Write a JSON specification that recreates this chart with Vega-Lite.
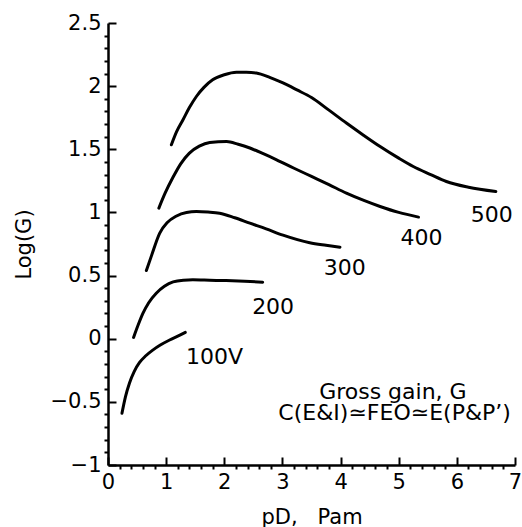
{
  "$schema": "https://vega.github.io/schema/vega-lite/v6.json",
  "width": 407,
  "height": 442,
  "autosize": {"type": "none"},
  "padding": {"left": 108, "top": 23, "right": 7, "bottom": 62},
  "background": "white",
  "config": {
    "font": "DejaVu Sans",
    "view": {"stroke": null},
    "axis": {
      "grid": false,
      "domainColor": "black",
      "domainWidth": 2.5,
      "tickColor": "black",
      "tickWidth": 2,
      "labelColor": "black",
      "titleColor": "black",
      "labelFontSize": 21,
      "titleFontSize": 21,
      "titleFontWeight": "normal",
      "labelOverlap": false,
      "labelFlush": false,
      "labelBound": false,
      "tickCount": 1000
    }
  },
  "datasets": {
    "curves": [
      {"series": "100", "x": 0.24, "y": -0.59},
      {"series": "100", "x": 0.30, "y": -0.46},
      {"series": "100", "x": 0.37, "y": -0.35},
      {"series": "100", "x": 0.45, "y": -0.26},
      {"series": "100", "x": 0.54, "y": -0.19},
      {"series": "100", "x": 0.65, "y": -0.135},
      {"series": "100", "x": 0.77, "y": -0.09},
      {"series": "100", "x": 0.90, "y": -0.05},
      {"series": "100", "x": 1.06, "y": -0.01},
      {"series": "100", "x": 1.20, "y": 0.02},
      {"series": "100", "x": 1.33, "y": 0.05},
      {"series": "200", "x": 0.44, "y": 0.01},
      {"series": "200", "x": 0.52, "y": 0.11},
      {"series": "200", "x": 0.60, "y": 0.20},
      {"series": "200", "x": 0.70, "y": 0.285},
      {"series": "200", "x": 0.83, "y": 0.36},
      {"series": "200", "x": 0.97, "y": 0.415},
      {"series": "200", "x": 1.12, "y": 0.45},
      {"series": "200", "x": 1.30, "y": 0.463},
      {"series": "200", "x": 1.46, "y": 0.466},
      {"series": "200", "x": 1.75, "y": 0.463},
      {"series": "200", "x": 2.03, "y": 0.46},
      {"series": "200", "x": 2.35, "y": 0.455},
      {"series": "200", "x": 2.66, "y": 0.448},
      {"series": "300", "x": 0.66, "y": 0.54},
      {"series": "300", "x": 0.75, "y": 0.66},
      {"series": "300", "x": 0.89, "y": 0.836},
      {"series": "300", "x": 1.02, "y": 0.92},
      {"series": "300", "x": 1.17, "y": 0.97},
      {"series": "300", "x": 1.35, "y": 1.0},
      {"series": "300", "x": 1.52, "y": 1.007},
      {"series": "300", "x": 1.72, "y": 1.003},
      {"series": "300", "x": 1.92, "y": 0.994},
      {"series": "300", "x": 2.18, "y": 0.958},
      {"series": "300", "x": 2.44, "y": 0.915},
      {"series": "300", "x": 2.72, "y": 0.87},
      {"series": "300", "x": 3.01, "y": 0.82},
      {"series": "300", "x": 3.47, "y": 0.76},
      {"series": "300", "x": 3.75, "y": 0.74},
      {"series": "300", "x": 3.99, "y": 0.725},
      {"series": "400", "x": 0.875, "y": 1.034},
      {"series": "400", "x": 0.98, "y": 1.15},
      {"series": "400", "x": 1.12, "y": 1.28},
      {"series": "400", "x": 1.25, "y": 1.385},
      {"series": "400", "x": 1.40, "y": 1.47},
      {"series": "400", "x": 1.57, "y": 1.525},
      {"series": "400", "x": 1.75, "y": 1.554},
      {"series": "400", "x": 2.04, "y": 1.562},
      {"series": "400", "x": 2.24, "y": 1.54},
      {"series": "400", "x": 2.44, "y": 1.51},
      {"series": "400", "x": 2.67, "y": 1.465},
      {"series": "400", "x": 2.90, "y": 1.417},
      {"series": "400", "x": 3.20, "y": 1.35},
      {"series": "400", "x": 3.50, "y": 1.285},
      {"series": "400", "x": 3.80, "y": 1.22},
      {"series": "400", "x": 4.10, "y": 1.153},
      {"series": "400", "x": 4.40, "y": 1.095},
      {"series": "400", "x": 4.68, "y": 1.047},
      {"series": "400", "x": 5.00, "y": 1.0},
      {"series": "400", "x": 5.34, "y": 0.963},
      {"series": "500", "x": 1.09, "y": 1.536},
      {"series": "500", "x": 1.18, "y": 1.64},
      {"series": "500", "x": 1.29, "y": 1.734},
      {"series": "500", "x": 1.40, "y": 1.83},
      {"series": "500", "x": 1.52, "y": 1.918},
      {"series": "500", "x": 1.65, "y": 1.99},
      {"series": "500", "x": 1.80, "y": 2.05},
      {"series": "500", "x": 2.00, "y": 2.09},
      {"series": "500", "x": 2.21, "y": 2.11},
      {"series": "500", "x": 2.38, "y": 2.11},
      {"series": "500", "x": 2.55, "y": 2.104},
      {"series": "500", "x": 2.78, "y": 2.07},
      {"series": "500", "x": 3.01, "y": 2.025},
      {"series": "500", "x": 3.25, "y": 1.97},
      {"series": "500", "x": 3.50, "y": 1.91},
      {"series": "500", "x": 3.80, "y": 1.81},
      {"series": "500", "x": 4.10, "y": 1.708},
      {"series": "500", "x": 4.40, "y": 1.61},
      {"series": "500", "x": 4.68, "y": 1.522},
      {"series": "500", "x": 5.00, "y": 1.43},
      {"series": "500", "x": 5.25, "y": 1.364},
      {"series": "500", "x": 5.55, "y": 1.30},
      {"series": "500", "x": 5.82, "y": 1.245},
      {"series": "500", "x": 6.20, "y": 1.20},
      {"series": "500", "x": 6.67, "y": 1.166}
    ],
    "labels": [
      {"text": "100V", "x": 1.83, "y": -0.145},
      {"text": "200", "x": 2.84, "y": 0.254},
      {"text": "300", "x": 4.07, "y": 0.56},
      {"text": "400", "x": 5.39, "y": 0.796},
      {"text": "500", "x": 6.60, "y": 0.98}
    ],
    "notes": [
      {"text": "Gross gain, G", "x": 4.90, "y": -0.42},
      {"text": "C(E&I)≃FEO≃E(P&P’)", "x": 4.93, "y": -0.59}
    ]
  },
  "layer": [
    {
      "data": {"name": "curves"},
      "mark": {"type": "line", "interpolate": "monotone", "color": "black", "strokeWidth": 3, "strokeCap": "round"},
      "encoding": {
        "x": {
          "field": "x", "type": "quantitative",
          "scale": {"domain": [0, 7], "nice": false, "zero": false},
          "axis": {
            "title": "pD,\u00a0\u00a0\u00a0Pam",
            "titleY": 58,
            "titleBaseline": "alphabetic",
            "tickCount": 1000,
            "values": [0, 0.2, 0.4, 0.6, 0.8, 1, 1.2, 1.4, 1.6, 1.8, 2, 2.2, 2.4, 2.6, 2.8, 3, 3.2, 3.4, 3.6, 3.8, 4, 4.2, 4.4, 4.6, 4.8, 5, 5.2, 5.4, 5.6, 5.8, 6, 6.2, 6.4, 6.6, 6.8, 7],
            "tickSize": {"condition": {"test": "abs(datum.value - round(datum.value)) < 1e-6", "value": -8}, "value": 4},
            "labelExpr": "abs(datum.value - round(datum.value)) < 1e-6 ? format(datum.value, '~g') : ''",
            "labelPadding": 14
          }
        },
        "y": {
          "field": "y", "type": "quantitative",
          "scale": {"domain": [-1, 2.5], "nice": false, "zero": false},
          "axis": {
            "title": "Log(G)",
            "titleX": -84,
            "titleBaseline": "middle",
            "tickCount": 1000,
            "values": [-1, -0.9, -0.8, -0.7, -0.6, -0.5, -0.4, -0.3, -0.2, -0.1, 0, 0.1, 0.2, 0.3, 0.4, 0.5, 0.6, 0.7, 0.8, 0.9, 1, 1.1, 1.2, 1.3, 1.4, 1.5, 1.6, 1.7, 1.8, 1.9, 2, 2.1, 2.2, 2.3, 2.4, 2.5],
            "tickSize": {"condition": {"test": "abs(datum.value * 2 - round(datum.value * 2)) < 1e-6", "value": -8}, "value": 4},
            "labelExpr": "abs(datum.value * 2 - round(datum.value * 2)) < 1e-6 ? format(datum.value, '~g') : ''",
            "labelPadding": 15
          }
        },
        "detail": {"field": "series"}
      }
    },
    {
      "data": {"name": "labels"},
      "mark": {"type": "text", "fontSize": 22, "color": "black", "align": "center", "baseline": "middle"},
      "encoding": {
        "x": {"field": "x", "type": "quantitative"},
        "y": {"field": "y", "type": "quantitative"},
        "text": {"field": "text"}
      }
    },
    {
      "data": {"name": "notes"},
      "mark": {"type": "text", "fontSize": 22, "color": "black", "align": "center", "baseline": "middle", "letterSpacing": 1.2},
      "encoding": {
        "x": {"field": "x", "type": "quantitative"},
        "y": {"field": "y", "type": "quantitative"},
        "text": {"field": "text"}
      }
    }
  ]
}
